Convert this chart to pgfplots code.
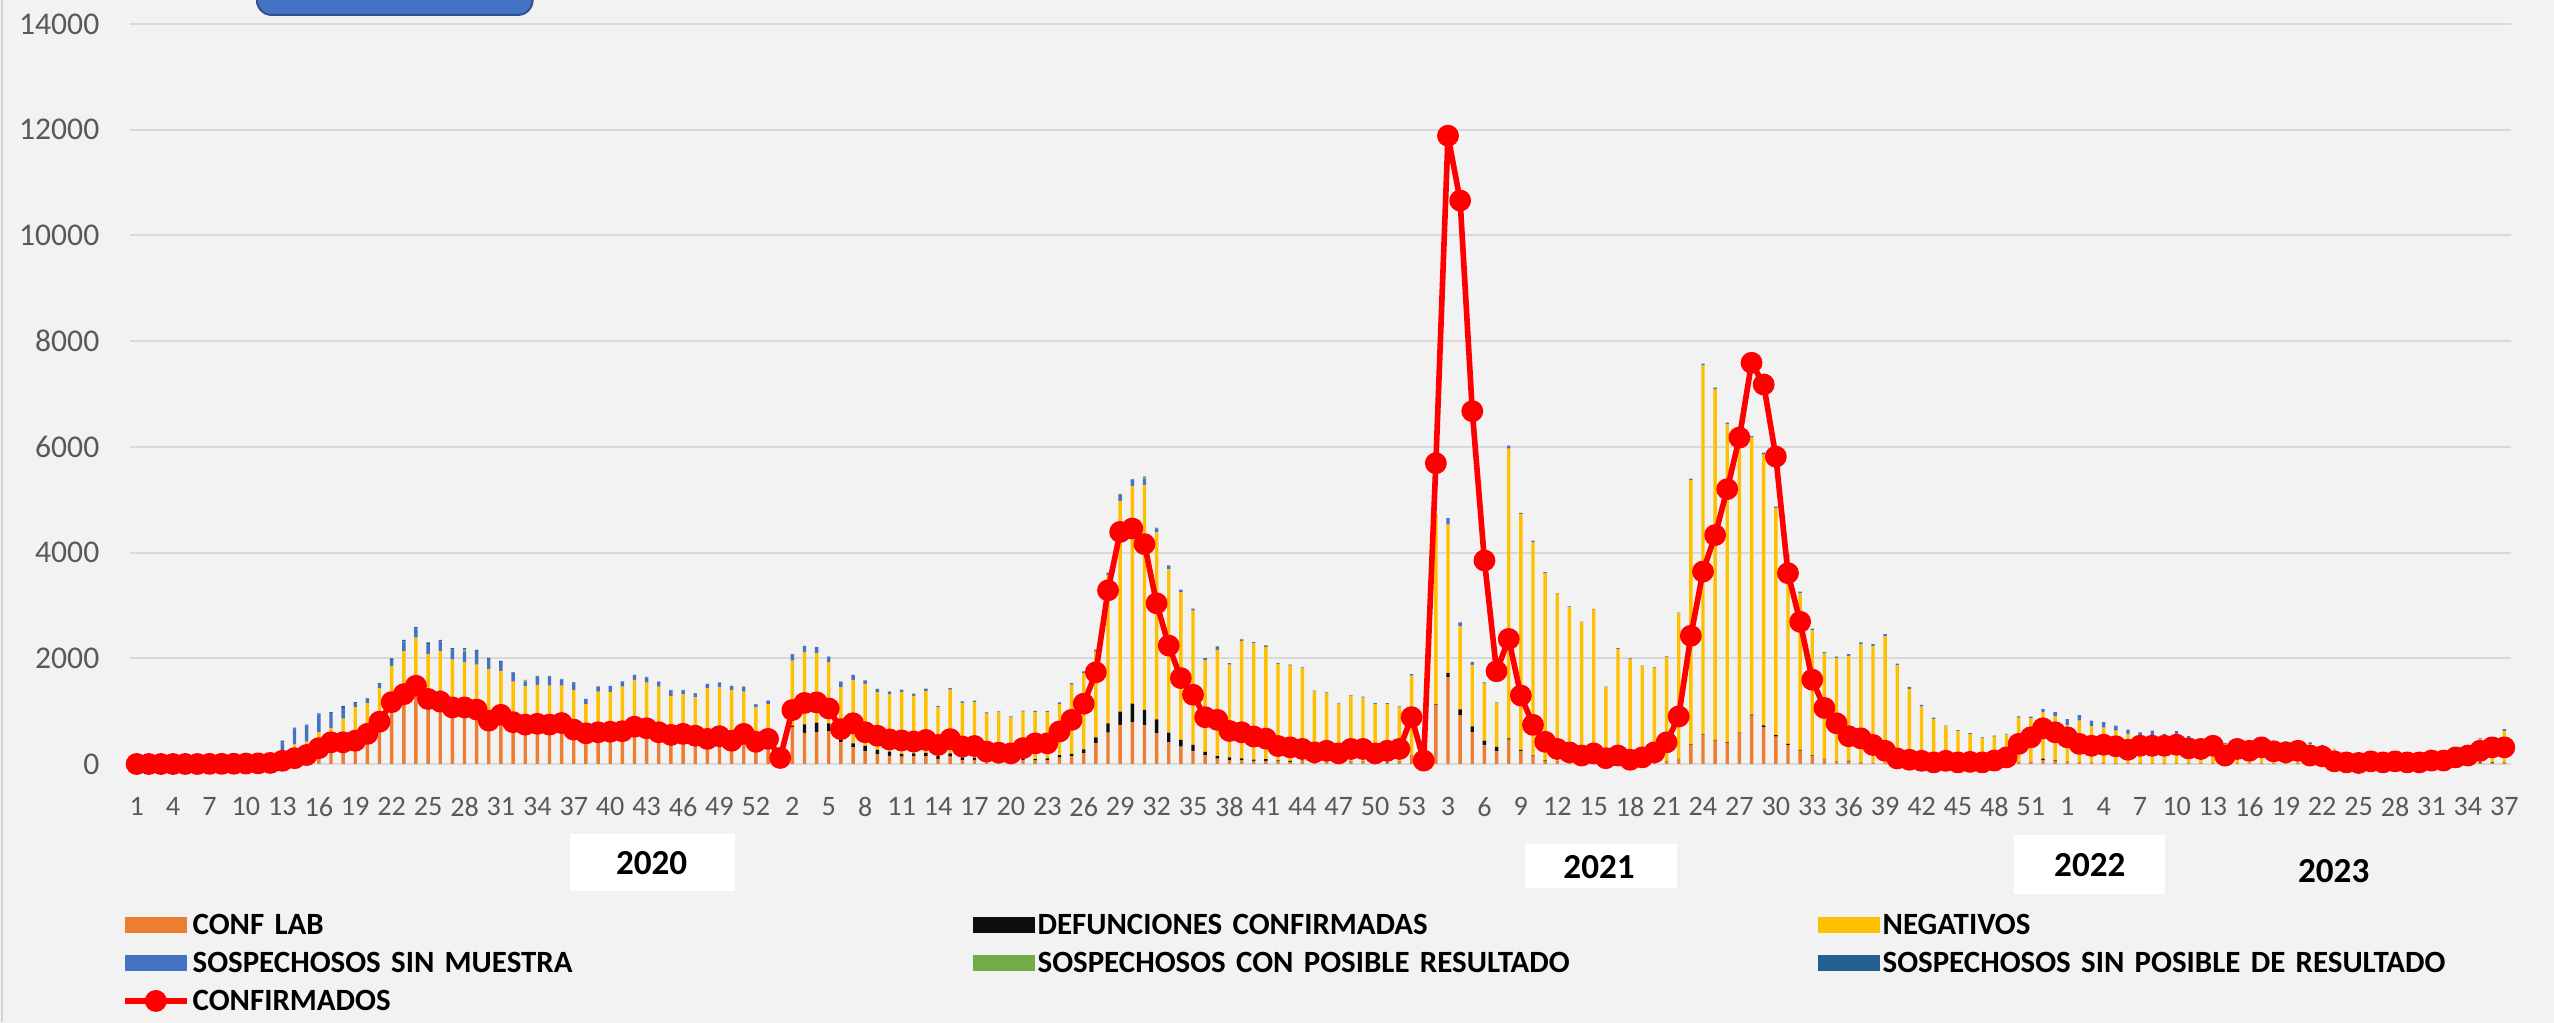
\documentclass[border=0pt]{standalone}
\usepackage{pgfplots}
\pgfplotsset{compat=1.18}
\usepackage{pgfplotstable}
\usepackage{fontspec}
\setmainfont{Carlito}
\definecolor{cOrange}{HTML}{ED7D31}
\definecolor{cBlack}{HTML}{0D0D0D}
\definecolor{cYellow}{HTML}{FFC000}
\definecolor{cBlue}{HTML}{4472C4}
\definecolor{cGreen}{HTML}{70AD47}
\definecolor{cDBlue}{HTML}{255E91}
\definecolor{cGrid}{HTML}{D9D9D9}
\definecolor{cTick}{HTML}{595959}
\definecolor{cBg}{HTML}{F2F2F2}
\definecolor{cBox}{HTML}{4472C4}
\definecolor{cBoxEdge}{HTML}{2F528F}
\pgfplotsset{myline legend/.style={legend image code/.code={\draw[mark repeat=2,mark phase=2,##1] plot coordinates {(0cm,0cm) (0.31cm,0cm) (0.62cm,0cm)};}}}

\pgfplotstableread{
i O D Y B G S M
1 0 0 0 0 0 0 0
2 0 0 0 0 0 0 0
3 0 0 0 0 0 0 0
4 0 0 0 0 0 0 0
5 0 0 0 0 0 0 0
6 0 0 0 0 0 0 0
7 2 0 0 0 0 0 2
8 3 0 0 0 0 0 3
9 5 0 0 0 0 0 5
10 8 0 0 0 0 0 8
11 12 0 0 0 0 0 12
12 20 0 0 0 0 0 20
13 120 0 100 190 0 30 60
14 280 0 95 295 0 20 110
15 330 20 75 300 0 20 170
16 400 20 180 340 0 20 300
17 460 20 200 285 0 15 410
18 470 20 370 200 0 40 410
19 500 25 550 80 0 15 440
20 620 25 505 75 0 15 570
21 870 30 530 85 0 15 800
22 1300 30 525 110 0 35 1170
23 1480 40 615 185 0 30 1320
24 1620 40 730 170 0 30 1480
25 1360 45 675 190 0 30 1230
26 1345 45 745 185 0 30 1180
27 1190 40 745 190 0 25 1070
28 1160 40 725 200 45 20 1070
29 1160 40 680 255 0 25 1030
30 950 40 800 200 0 20 820
31 945 35 780 170 0 20 930
32 850 30 680 160 0 15 790
33 800 30 640 80 30 10 745
34 810 30 655 160 0 10 760
35 800 30 655 170 0 10 745
36 830 30 625 115 0 10 775
37 700 25 675 135 0 10 650
38 620 25 490 90 0 5 580
39 640 25 705 95 0 5 600
40 650 25 690 110 0 5 610
41 660 25 780 95 0 5 620
42 750 25 815 90 0 5 705
43 720 25 795 100 0 10 675
44 640 25 800 90 0 5 600
45 590 20 680 105 0 5 550
46 610 20 695 70 0 5 570
47 570 20 670 75 0 5 535
48 510 20 905 75 0 5 475
49 560 20 870 90 0 5 525
50 470 20 910 75 0 5 440
51 610 20 740 90 0 5 570
52 450 20 600 60 0 5 420
53 510 20 605 60 0 5 475
54 110 5 15 0 0 0 115
55 700 25 1230 115 0 10 1020
56 590 160 1370 110 0 5 1155
57 610 175 1315 110 0 5 1165
58 620 150 1155 100 0 5 1050
59 420 90 945 100 0 5 660
60 320 70 1200 90 0 5 770
61 240 105 1170 60 0 5 600
62 185 80 1090 60 0 5 535
63 155 80 1080 50 0 5 465
64 140 50 1175 40 0 0 445
65 150 50 1090 40 0 0 425
66 150 60 1175 40 0 0 455
67 90 60 920 30 0 0 360
68 140 60 1205 30 0 0 470
69 75 50 1030 30 0 0 330
70 80 40 1050 30 0 0 340
71 40 35 880 20 0 0 235
72 50 20 905 20 0 0 215
73 40 15 825 20 0 0 200
74 75 30 885 20 0 0 300
75 70 20 890 25 0 0 390
76 75 30 875 25 0 0 390
77 120 50 965 30 0 0 615
78 150 40 1310 30 0 0 835
79 200 75 1445 30 0 0 1140
80 390 115 1620 40 0 0 1735
81 595 175 2810 40 0 0 3285
82 740 250 3990 110 20 0 4390
83 790 350 4120 110 20 0 4455
84 740 285 4255 120 40 0 4160
85 580 265 3535 80 10 0 3040
86 410 185 3085 80 0 0 2240
87 330 125 2795 50 0 0 1625
88 250 110 2540 40 0 0 1310
89 170 60 1735 40 0 0 885
90 100 50 2010 50 20 0 835
91 75 50 1755 30 0 0 625
92 75 30 2225 25 10 0 600
93 60 25 2195 25 0 0 520
94 60 30 2125 25 10 0 480
95 50 20 1825 20 0 0 340
96 40 20 1800 20 0 0 315
97 50 15 1745 20 0 0 285
98 20 45 1310 15 0 0 220
99 30 15 1290 20 0 0 250
100 20 15 1105 15 0 0 200
101 30 15 1240 15 0 0 285
102 30 15 1210 20 0 0 285
103 25 10 1100 15 0 0 200
104 25 15 1095 15 0 0 250
105 30 15 1025 20 0 0 285
106 145 15 1510 30 0 0 885
107 40 5 55 0 0 0 65
108 1110 20 3590 0 0 0 5690
109 1640 80 2810 120 0 0 11886
110 925 110 1570 75 0 0 10660
111 610 100 1165 50 0 0 6675
112 360 80 1080 25 0 0 3850
113 250 75 830 10 0 0 1755
114 460 25 5480 60 0 0 2365
115 250 15 4465 20 0 0 1295
116 160 10 4030 25 0 0 740
117 60 10 3540 20 0 0 420
118 40 5 3180 10 0 0 285
119 30 5 2935 10 0 0 220
120 30 0 2655 10 0 0 160
121 30 0 2890 15 0 0 200
122 20 0 1435 10 0 0 110
123 25 0 2150 15 0 0 160
124 20 0 1965 15 0 0 80
125 20 0 1825 15 0 0 125
126 25 0 1790 15 0 0 220
127 60 0 1960 15 0 0 410
128 105 0 2745 15 0 0 900
129 365 10 5000 25 0 0 2425
130 555 10 6975 35 0 0 3640
131 440 10 6640 30 0 0 4330
132 395 15 6015 35 0 0 5200
133 585 10 5620 25 0 0 6175
134 915 20 5245 25 0 0 7590
135 695 35 5125 35 0 0 7180
136 520 25 4295 30 0 0 5815
137 355 25 3545 25 0 0 3610
138 255 10 2965 30 0 0 2690
139 153 10 2367 30 0 0 1595
140 90 5 2000 20 0 0 1060
141 45 5 1955 25 0 0 770
142 45 15 1985 35 0 0 525
143 30 5 2230 35 0 0 485
144 25 0 2210 35 0 0 360
145 20 0 2395 40 0 0 250
146 10 0 1855 35 0 0 105
147 10 0 1405 45 0 0 80
148 10 0 1075 35 0 0 60
149 10 0 845 20 0 0 30
150 10 0 700 15 0 0 60
151 10 0 615 15 0 0 30
152 10 0 560 15 0 0 40
153 10 0 480 15 0 0 30
154 10 0 510 15 0 0 65
155 15 0 540 15 0 0 125
156 40 0 835 25 0 0 380
157 50 0 815 30 0 0 505
158 75 25 880 60 0 0 675
159 60 10 835 75 0 0 600
160 50 5 685 110 0 0 505
161 40 0 780 105 0 0 380
162 30 0 685 105 0 0 345
163 30 0 660 100 0 0 365
164 25 0 605 95 0 0 335
165 25 0 545 80 0 0 270
166 20 0 480 100 0 0 345
167 20 0 515 95 0 0 345
168 20 0 455 95 0 0 345
169 20 0 500 100 0 0 365
170 20 0 455 50 0 0 295
171 15 0 420 40 0 0 285
172 15 0 440 30 0 0 345
173 15 0 365 20 0 0 160
174 15 0 405 20 0 0 285
175 15 0 370 15 0 0 250
176 15 0 350 15 0 0 315
177 15 0 315 20 0 0 240
178 15 0 375 40 0 0 220
179 15 0 385 40 0 0 250
180 15 0 355 40 0 0 160
181 10 0 320 30 0 0 145
182 10 0 265 10 0 0 50
183 10 0 200 10 0 0 30
184 10 0 110 0 0 0 20
185 10 0 140 0 0 0 50
186 10 0 120 0 0 0 30
187 10 0 140 0 0 0 50
188 10 0 120 0 0 0 30
189 10 0 130 0 0 0 30
190 10 0 160 0 0 0 65
191 10 0 170 0 0 0 65
192 10 0 220 0 0 0 125
193 10 0 270 0 0 0 160
194 20 10 435 20 0 0 250
195 20 10 440 20 0 0 315
196 25 5 595 35 0 0 315
}\data

\begin{document}
\begin{tikzpicture}
\useasboundingbox (0,0) rectangle (25.54cm,-10.23cm);
\fill[cBg] (0,0) rectangle (25.54cm,-10.23cm);
\begin{scope}[x=0.01cm,y=-0.01cm]
  \draw[gray!35, line width=0.02cm] (2,0) -- (2,1023);
  \fill[white] (570,834) rectangle (735,892);
  \fill[white] (1526,844) rectangle (1678,889);
  \fill[white] (2015,835) rectangle (2166,895);
  \node[font=\bfseries\fontsize{10}{12}\selectfont, inner sep=0pt] at (652,864) {2020};
  \node[font=\bfseries\fontsize{10}{12}\selectfont, inner sep=0pt] at (1600,868) {2021};
  \node[font=\bfseries\fontsize{10}{12}\selectfont, inner sep=0pt] at (2091,866) {2022};
  \node[font=\bfseries\fontsize{10}{12}\selectfont, inner sep=0pt] at (2335,872) {2023};
\end{scope}

\begin{axis}[
  at={(1.30cm,-7.64cm)}, anchor=south west,
  scale only axis, width=23.81cm, height=7.40cm,
  xmin=0.45, xmax=196.55, ymin=0, ymax=14000,
  ybar stacked, bar width=0.28,
  axis line style={draw=none},
  major tick length=0pt, tick style={draw=none},
  ymajorgrids, grid style={cGrid, line width=0.6pt},
  ytick={0,2000,...,14000},
  xtick={1,4,...,196},
  xticklabels={1,4,7,10,13,16,19,22,25,28,31,34,37,40,43,46,49,52,
               2,5,8,11,14,17,20,23,26,29,32,35,38,41,44,47,50,53,
               3,6,9,12,15,18,21,24,27,30,33,36,39,42,45,48,51,
               1,4,7,10,13,16,19,22,25,28,31,34,37},
  yticklabel style={font=\fontsize{9}{10}\selectfont, text=cTick, anchor=east, inner sep=0pt, xshift=-0.3cm},
  xticklabel style={font=\fontsize{8}{9}\selectfont, text=cTick, anchor=north, inner sep=0pt, yshift=-0.33cm},
  /pgf/number format/assume math mode=true,
  /pgf/number format/1000 sep={},
  scaled y ticks=false,
  legend columns=3,
  legend cell align=left,
  legend style={at={(-0.00336,-0.204)}, anchor=north west, draw=none, fill=none,
    inner sep=0pt, outer sep=0pt, row sep=0.18cm,
    font=\bfseries\fontsize{8.8}{10}\selectfont,
    nodes={inner sep=0pt, text height=0.2cm, text depth=0cm, text width=7.80cm, align=left},
    /tikz/every odd column/.style={column sep=0.03cm}},
  legend image code/.code={\fill[#1] (0cm,-0.08cm) rectangle (0.62cm,0.08cm);},
]
\addplot[fill=cOrange, draw=none] table[x=i,y=O]{\data};
\addlegendentry{CONF LAB}
\addplot[fill=cBlack, draw=none] table[x=i,y=D]{\data};
\addlegendentry{DEFUNCIONES CONFIRMADAS}
\addplot[fill=cYellow, draw=none] table[x=i,y=Y]{\data};
\addlegendentry{NEGATIVOS}
\addplot[fill=cBlue, draw=none] table[x=i,y=B]{\data};
\addlegendentry{SOSPECHOSOS SIN MUESTRA}
\addplot[fill=cGreen, draw=none] table[x=i,y=G]{\data};
\addlegendentry{SOSPECHOSOS CON POSIBLE RESULTADO}
\addplot[fill=cDBlue, draw=none] table[x=i,y=S]{\data};
\addlegendentry{SOSPECHOSOS SIN POSIBLE DE RESULTADO}
\addlegendimage{myline legend, sharp plot, red, line width=1.6pt, mark=*, mark size=2.3pt, mark options={fill=red, draw=red}}
\addlegendentry{CONFIRMADOS}
\end{axis}

\begin{axis}[
  at={(1.30cm,-7.64cm)}, anchor=south west,
  scale only axis, width=23.81cm, height=7.40cm,
  xmin=0.45, xmax=196.55, ymin=0, ymax=14000,
  hide axis, clip=false,
]
\addplot[color=red, line width=1.6pt, line join=round, mark=*, mark size=2.3pt, mark options={fill=red, draw=red}] table[x=i,y=M]{\data};
\end{axis}

\begin{scope}
  \clip (0,0) rectangle (25.54cm,-10.23cm);
  \begin{scope}[x=0.01cm,y=-0.01cm]
    \draw[fill=cBox, draw=cBoxEdge, line width=0.02cm, rounded corners=0.15cm] (257,-40) rectangle (533,15);
  \end{scope}
\end{scope}
\end{tikzpicture}
\end{document}
